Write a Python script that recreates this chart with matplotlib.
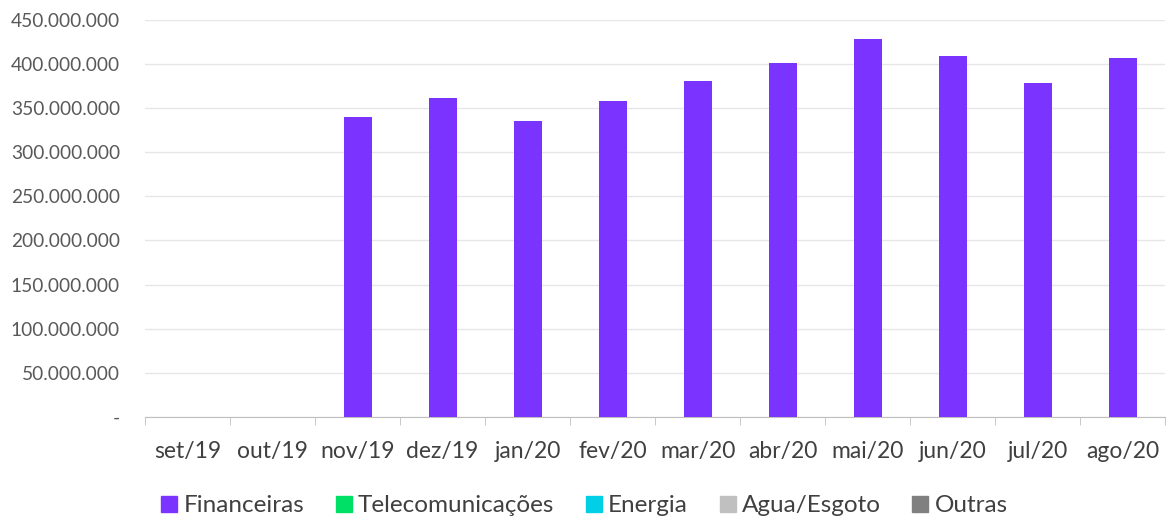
import numpy as np
import matplotlib.pyplot as plt
from matplotlib.ticker import FuncFormatter
from matplotlib.patches import Patch

meses = ["set/19", "out/19", "nov/19", "dez/19", "jan/20", "fev/20",
         "mar/20", "abr/20", "mai/20", "jun/20", "jul/20", "ago/20"]
financeiras = [0, 0, 340e6, 361e6, 335.5e6, 357.5e6, 381e6, 401e6, 428.5e6, 409e6, 378.5e6, 407e6]
telecom = [0] * 12
energia = [0] * 12
agua = [0] * 12
outras = [0] * 12

series = [("Financeiras", financeiras, "#7B33FF"),
          ("Telecomunicações", telecom, "#00E066"),
          ("Energia", energia, "#00CFE6"),
          ("Agua/Esgoto", agua, "#C0C0C0"),
          ("Outras", outras, "#808080")]

plt.rcParams['font.family'] = ['Lato', 'DejaVu Sans']
fig = plt.figure(figsize=(11.69, 5.2), dpi=100)
ax = fig.add_axes([0.124, 0.198, 0.873, 0.764])

x = np.arange(len(meses))
base = np.zeros(len(meses))
for nome, vals, cor in series:
    v = np.array(vals, float)
    ax.bar(x, v, 0.33, bottom=base, color=cor, zorder=3)
    base += v

ax.set_xlim(-0.5, len(meses) - 0.5)
ax.set_ylim(0, 450e6)
ax.set_yticks(np.arange(0, 450e6 + 1, 50e6))

def fmt(v, p):
    if v == 0:
        return "-"
    return f"{int(v):,}".replace(",", ".")

ax.yaxis.set_major_formatter(FuncFormatter(fmt))
ax.grid(axis="y", color="#e6e6e6", linewidth=1, zorder=0)
for s in ["top", "right", "left"]:
    ax.spines[s].set_visible(False)
ax.spines["bottom"].set_color("#bfbfbf")
ax.tick_params(axis="y", length=0, labelsize=13.8, labelcolor="#595959", pad=18)
ax.set_xticks(x)
ax.set_xticklabels(meses)
ax.tick_params(axis="x", length=0, labelsize=16.5, labelcolor="#404040", pad=17)
ax.set_xticks(np.arange(-0.5, len(meses)), minor=True)
ax.tick_params(axis="x", which="minor", length=6, color="#bfbfbf")

handles = [Patch(color=c) for _, _, c in series]
fig.legend(handles, [n for n, _, _ in series], loc="lower center",
           bbox_to_anchor=(0.5, -0.035), ncol=5, frameon=False, fontsize=17.5,
           handlelength=0.66, handleheight=0.66, handletextpad=0.25, columnspacing=1.3,
           labelcolor="#404040")

fig.savefig("out.png", dpi=100)
